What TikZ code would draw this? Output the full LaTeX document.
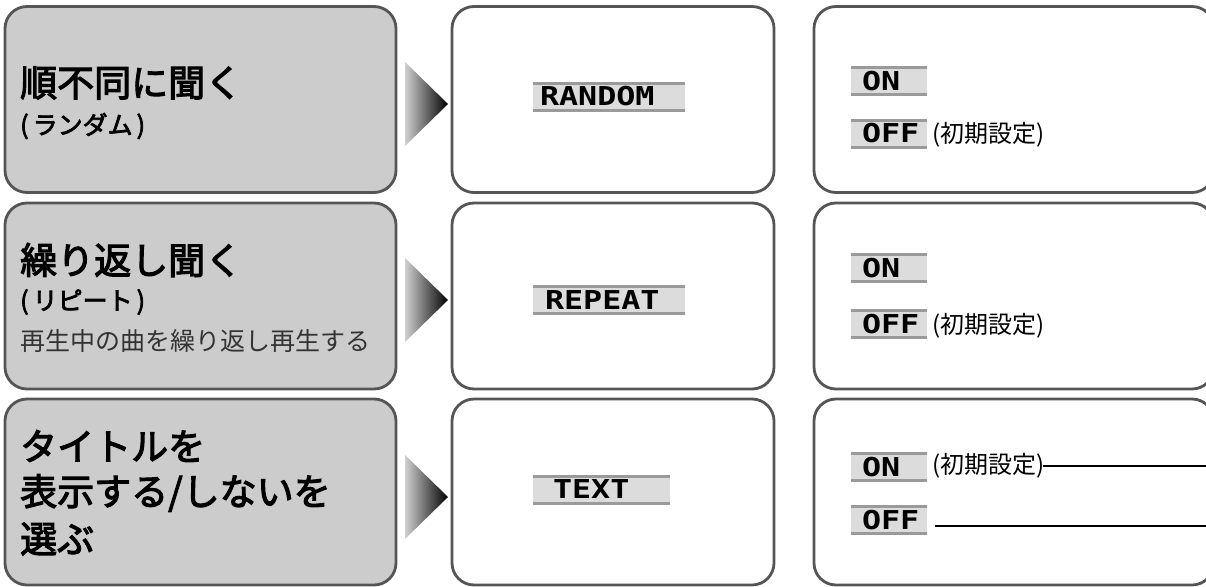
\documentclass[tikz,border=0pt]{standalone}
\usepackage{fontspec}
\usepackage{xcolor}
\usepackage{tikz}
\usetikzlibrary{positioning}
\newfontfamily\jp{Noto Sans CJK JP}
\newfontfamily\jpmed{Noto Sans CJK JP}[FakeBold=3]
\newfontfamily\lcdfont{DejaVu Sans Mono}[FakeStretch=1.22]
\definecolor{boxline}{HTML}{555555}
\definecolor{boxfill}{HTML}{CCCCCC}
\definecolor{lcdfill}{HTML}{DCDCDC}
\definecolor{lcdedge}{HTML}{9A9A9A}
\definecolor{arrowlight}{HTML}{D0D0D0}
\newcommand{\boxr}{22pt}
\newcommand{\boxw}{2.8pt}
\newcommand{\pgap}{\hspace{4pt}}

\begin{document}
\begin{tikzpicture}[x=1pt,y=-1pt,
    menuBox/.style={rectangle, draw=boxline, line width=\boxw, rounded corners=\boxr,
      minimum height=186pt, inner sep=0pt},
    titleBox/.style={menuBox, fill=boxfill, minimum width=391pt},
    dispBox/.style={menuBox, fill=white, minimum width=322pt},
    setBox/.style={menuBox, fill=white, minimum width=400pt},
    titleText/.style={anchor=west, inner sep=0pt, font=\jpmed\fontsize{37}{44}\selectfont},
    subText/.style={anchor=west, inner sep=0pt, font=\jpmed\fontsize{25}{30}\selectfont},
    descText/.style={anchor=west, inner sep=0pt, font=\jp\fontsize{25}{30}\selectfont, text=black!80},
    noteText/.style={anchor=west, inner sep=0pt, font=\jp\fontsize{24}{28}\selectfont},
    lcd/.style={rectangle, fill=lcdfill, minimum height=30pt, inner sep=0pt,
      path picture={
        \draw[lcdedge, line width=3pt] ([yshift=-1.5pt]path picture bounding box.north west) -- ([yshift=-1.5pt]path picture bounding box.north east);
        \draw[lcdedge, line width=3pt] ([yshift=1.5pt]path picture bounding box.south west) -- ([yshift=1.5pt]path picture bounding box.south east);
      }},
    lcdText/.style={inner sep=0pt, font=\lcdfont\bfseries\fontsize{26}{26}\selectfont},
    noteLine/.style={draw=black, line width=2pt}
  ]
  %\draw[help lines] (0,0) grid (1206,586);
  \useasboundingbox (0,0) rectangle (1206,586);
  \begin{scope}
    \clip (0,0) rectangle (1206,586);
    % boxes, three rows
    \node[titleBox] (randomBox) at (200.5,99.5) {};
    \node[titleBox] (repeatBox) at (200.5,296) {};
    \node[titleBox] (textBox) at (200.5,492) {};
    \node[dispBox] (randomDisp) at (613,99.5) {};
    \node[dispBox] (repeatDisp) at (613,296) {};
    \node[dispBox] (textDisp) at (613,492) {};
    \node[setBox] (randomSet) at (1014,99.5) {};
    \node[setBox] (repeatSet) at (1014,296) {};
    \node[setBox] (textSet) at (1014,492) {};
  \end{scope}

  % arrows between title and display
  \foreach \y in {104,300,497}
    \shade[left color=arrowlight, right color=black] (405,\y-42) -- (448,\y) -- (405,\y+42) -- cycle;

  % titles
  \node[titleText] (randomTitle) at (20,83) {順不同に聞く};
  \node[subText] (randomSub) at (20,126) {(\pgap ランダム\pgap)};
  \node[titleText] (repeatTitle) at (20,260) {繰り返し聞く};
  \node[subText] (repeatSub) at (20,302) {(\pgap リピート\pgap)};
  \node[descText] (repeatDesc) at (20,341) {再生中の曲を繰り返し再生する};
  \node[titleText] (textTitleA) at (20,446) {タイトルを};
  \node[titleText] (textTitleB) at (20,493) {表示する/しないを};
  \node[titleText] (textTitleC) at (20,539) {選ぶ};

  % display
  \node[lcd, minimum width=152pt] (randomLcd) at (609,96.5) {};
  \node[lcdText, right=7pt of randomLcd.west] (randomLcdText) {RANDOM};
  \node[lcd, minimum width=152pt] (repeatLcd) at (609,300) {};
  \node[lcdText, right=12pt of repeatLcd.west] (repeatLcdText) {REPEAT};
  \node[lcd, minimum width=137pt] (textLcd) at (601.5,489.5) {};
  \node[lcdText, right=20pt of textLcd.west] (textLcdText) {TEXT};

  % settings
  \node[lcd, minimum width=76pt] (on1) at (889,81) {};
  \node[lcdText, right=11pt of on1.west] (on1Text) {ON};
  \node[lcd, minimum width=76pt] (off1) at (889,133.5) {};
  \node[lcdText, right=11pt of off1.west] (off1Text) {OFF};
  \node[noteText] (off1Note) at (932,135) {(初期設定)};

  \node[lcd, minimum width=76pt] (on2) at (889,268) {};
  \node[lcdText, right=11pt of on2.west] (on2Text) {ON};
  \node[lcd, minimum width=76pt] (off2) at (889,324) {};
  \node[lcdText, right=11pt of off2.west] (off2Text) {OFF};
  \node[noteText] (off2Note) at (932,326) {(初期設定)};

  \node[lcd, minimum width=76pt] (on3) at (889,467) {};
  \node[lcdText, right=11pt of on3.west] (on3Text) {ON};
  \node[noteText] (on3Note) at (932,466) {(初期設定)};
  \node[lcd, minimum width=76pt] (off3) at (889,520) {};
  \node[lcdText, right=11pt of off3.west] (off3Text) {OFF};

  \coordinate (onStart) at (1043,466);
  \coordinate (onRim) at (1206,466);
  \coordinate (offStart) at (935,526);
  \coordinate (offRim) at (1206,526);
  \draw[noteLine] (onStart) -- (onRim);
  \draw[noteLine] (offStart) -- (offRim);
\end{tikzpicture}
\end{document}
